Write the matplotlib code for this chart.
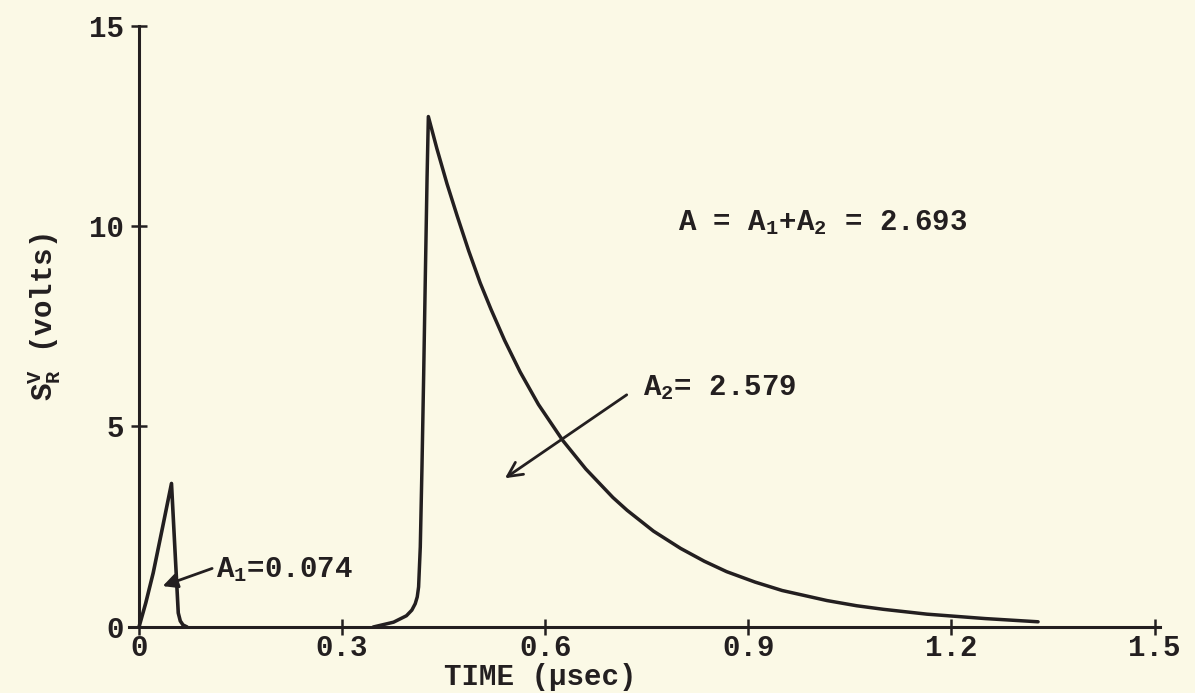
import matplotlib
matplotlib.use("Agg")
import matplotlib.pyplot as plt

# ---- data ----
t_pulse1 = [0.000, 0.010, 0.021, 0.035, 0.048, 0.058, 0.061, 0.065, 0.071]
v_pulse1 = [0.00, 0.60, 1.35, 2.50, 3.58, 0.35, 0.15, 0.05, 0.00]

t_pulse2 = [0.346, 0.376, 0.395, 0.403, 0.408, 0.411, 0.413, 0.4155, 0.418,
            0.4205, 0.423, 0.4255, 0.4274, 0.440, 0.455, 0.470, 0.487, 0.504,
            0.520, 0.540, 0.563, 0.590, 0.626, 0.660, 0.700, 0.721, 0.760,
            0.800, 0.835, 0.868, 0.910, 0.950, 1.016, 1.060, 1.100, 1.164,
            1.250, 1.328]
v_pulse2 = [0.00, 0.12, 0.28, 0.42, 0.58, 0.75, 1.00, 2.00, 4.00,
            6.30, 8.80, 11.20, 12.73, 11.93, 11.05, 10.25, 9.38, 8.58,
            7.92, 7.15, 6.36, 5.55, 4.65, 3.94, 3.23, 2.91, 2.39,
            1.96, 1.64, 1.38, 1.12, 0.91, 0.66, 0.53, 0.44, 0.32,
            0.21, 0.13]

x_ticks = [0, 0.3, 0.6, 0.9, 1.2, 1.5]
x_ticklabels = ["0", "0.3", "0.6", "0.9", "1.2", "1.5"]
y_ticks = [0, 5, 10, 15]
y_ticklabels = ["0", "5", "10", "15"]

label_a1 = r"A$_\mathrm{1}$=0.074"
label_a2 = r"A$_\mathrm{2}$= 2.579"
label_total = r"A = A$_\mathrm{1}$+A$_\mathrm{2}$ = 2.693"
x_label = "TIME (\u00b5sec)"
y_label = r"S$_\mathrm{R}^\mathrm{V}$ (volts)"

# ---- style ----
INK = "#231f20"
BG = "#fbf9e6"
FONT = "Liberation Mono"
FS = 21

plt.rcParams["font.family"] = [FONT, "DejaVu Sans"]
plt.rcParams["font.weight"] = "bold"
plt.rcParams["mathtext.fontset"] = "custom"
plt.rcParams["mathtext.rm"] = FONT + ":bold"
plt.rcParams["mathtext.it"] = FONT + ":bold"
plt.rcParams["mathtext.bf"] = FONT + ":bold"

fig = plt.figure(figsize=(11.95, 6.93), dpi=100, facecolor=BG)
ax = fig.add_axes([0, 0, 1, 1])
ax.set_facecolor(BG)

ax.set_xlim(-0.2053, 1.5598)
ax.set_ylim(-1.646, 15.636)

ax.plot(t_pulse1, v_pulse1, color=INK, lw=2.6, solid_joinstyle="round",
        solid_capstyle="round")
ax.plot(t_pulse2, v_pulse2, color=INK, lw=2.5, solid_joinstyle="round",
        solid_capstyle="round")

for side in ("top", "right"):
    ax.spines[side].set_visible(False)
ax.spines["left"].set_position(("data", 0))
ax.spines["bottom"].set_position(("data", 0))
ax.spines["left"].set_bounds(0, 15)
ax.spines["bottom"].set_bounds(-0.015, 1.508)
for side in ("left", "bottom"):
    ax.spines[side].set_color(INK)
    ax.spines[side].set_linewidth(2.2)

ax.set_xticks(x_ticks)
ax.set_xticklabels(x_ticklabels)
ax.set_yticks(y_ticks)
ax.set_yticklabels(y_ticklabels)
ax.tick_params(axis="both", direction="inout", length=11.5, width=1.8,
               colors=INK, labelsize=FS)
ax.tick_params(axis="x", pad=-1)
ax.tick_params(axis="y", pad=5)

ax.text(0.592, -1.25, x_label, fontsize=FS, color=INK, ha="center",
        va="center")
ax.text(-0.139, 7.73, y_label, fontsize=FS, color=INK, ha="center",
        va="center", rotation=90)

# annotations
ax.annotate("", xy=(0.035, 1.02), xytext=(0.108, 1.46),
            arrowprops=dict(arrowstyle="-|>", color=INK, lw=2.0,
                            mutation_scale=22, shrinkA=0, shrinkB=0))
ax.text(0.1137, 1.25, label_a1, fontsize=FS, color=INK, ha="left",
        va="baseline")

ax.annotate("", xy=(0.5406, 3.71), xytext=(0.7204, 5.79),
            arrowprops=dict(arrowstyle="->", color=INK, lw=2.0,
                            mutation_scale=26, shrinkA=0, shrinkB=0))
ax.text(0.745, 5.79, label_a2, fontsize=FS, color=INK, ha="left",
        va="baseline")

ax.text(0.7966, 9.90, label_total, fontsize=FS, color=INK, ha="left",
        va="baseline")

fig.savefig("out.png", dpi=100, facecolor=BG)
